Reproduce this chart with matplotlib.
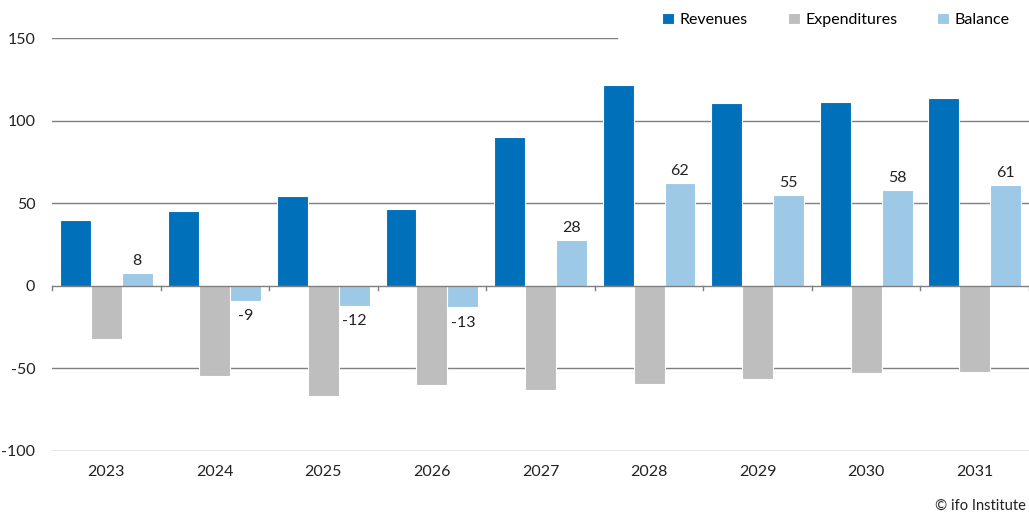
import matplotlib
matplotlib.use("Agg")
import matplotlib.pyplot as plt
import numpy as np

years = ["2023", "2024", "2025", "2026", "2027", "2028", "2029", "2030", "2031"]
revenues = [40, 45.5, 54.5, 46.5, 90, 121.5, 110.5, 111, 113.5]
expenditures = [-32.5, -54.5, -67, -60, -63, -59.5, -56.5, -53, -52]
balance = [8, -9, -12, -13, 28, 62, 55, 58, 61]
balance_labels = ["8", "-9", "-12", "-13", "28", "62", "55", "58", "61"]

c_rev = "#0070BA"
c_exp = "#BEBEBE"
c_bal = "#9DC8E6"

plt.rcParams['font.family'] = ['Lato', 'DejaVu Sans']

fig = plt.figure(figsize=(10.29, 5.16), dpi=100)
ax = fig.add_axes([52/1029, 1-451/516, 1-52/1029, (451-38)/516])

x = np.arange(len(years))
w = 0.285
ax.bar(x - w, revenues, w, color=c_rev, edgecolor="white", linewidth=0.8, label="Revenues", zorder=3)
ax.bar(x, expenditures, w, color=c_exp, edgecolor="white", linewidth=0.8, label="Expenditures", zorder=3)
ax.bar(x + w, balance, w, color=c_bal, edgecolor="white", linewidth=0.8, label="Balance", zorder=3)

for xi, v, lab in zip(x + w, balance, balance_labels):
    if v >= 0:
        ax.text(xi, v + 3, lab, ha="center", va="bottom", fontsize=11.5, color="#222222")
    else:
        ax.text(xi, v - 5, lab, ha="center", va="top", fontsize=11.5, color="#222222")

ax.set_xlim(-0.5, len(years) - 0.5)
ax.set_ylim(-100, 150)
ax.set_yticks([-100, -50, 0, 50, 100, 150])
ax.set_yticklabels(["-100", "-50", "0", "50", "100", "150"])
ax.set_xticks(x)
ax.set_xticklabels(years)
ax.tick_params(axis="both", length=0, labelsize=11.5, colors="#222222")
ax.tick_params(axis="y", pad=12)
ax.tick_params(axis="x", pad=10)
for s in ax.spines.values():
    s.set_visible(False)

for yv in [-100, -50, 50, 100]:
    ax.axhline(yv, color="#7f7f7f", linewidth=1.0, zorder=1)
ax.axhline(150, xmax=(617-52)/977, color="#7f7f7f", linewidth=1.0, zorder=1)
ax.axhline(0, color="#7f7f7f", linewidth=1.0, zorder=4)
for b in np.arange(-0.5, len(years), 1.0):
    ax.plot([b, b], [0, -2.5], color="#7f7f7f", linewidth=1.0, zorder=4, clip_on=False)

leg = fig.legend(*ax.get_legend_handles_labels(), loc="center right",
                 bbox_to_anchor=(1010/1029, 1-20/516), ncol=3, frameon=False,
                 fontsize=11.5, handlelength=0.75, handleheight=0.75, handletextpad=0.35,
                 columnspacing=2.5, borderaxespad=0, borderpad=0)

fig.text(1026/1029, 1-506/516, "© ifo Institute", ha="right", va="center", fontsize=10.5, color="#222222")

fig.savefig("out.png", dpi=100)
